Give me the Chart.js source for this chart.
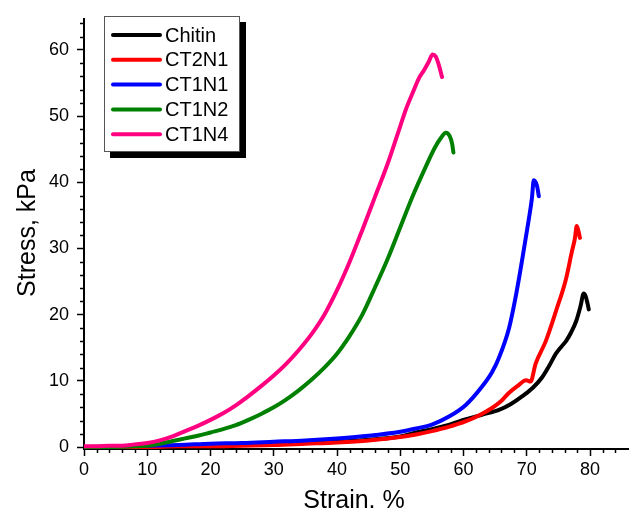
<!DOCTYPE html>
<html>
<head>
<meta charset="utf-8">
<script src="https://cdn.jsdelivr.net/npm/chart.js@4.4.0/dist/chart.umd.min.js"></script>
<style>
  body { margin: 0; background: #fff; }
  canvas { display: block; }
</style>
</head>
<body>
<canvas id="chart" width="633" height="508"></canvas>
<script>
// strain (%) / stress (kPa)
let chitinStrain = [0, 5, 10, 15, 20, 25, 30, 35, 40, 45, 50, 52.5, 55, 57.5, 60.4, 63, 65.6, 67.5, 69.2, 71, 72.4, 73.5, 74.6, 75.5, 76.2, 77, 77.8, 78.5, 79, 79.3, 79.6, 79.8];
let chitinStress = [0, 0, 0, 0.1, 0.2, 0.3, 0.4, 0.6, 0.8, 1.1, 1.6, 2.2, 2.7, 3.3, 4.2, 4.9, 5.6, 6.5, 7.6, 9.0, 10.5, 12.2, 14.1, 15.2, 16.0, 17.3, 19.0, 21.3, 23.2, 22.8, 21.7, 20.8];

let ct2n1Strain = [0, 5, 10, 15, 20, 25, 30, 35, 40, 45, 50, 52.5, 55, 57.5, 60.4, 62.5, 64.5, 66, 67.2, 68.5, 69.9, 70.6, 71.4, 73, 74.6, 76.2, 77.1, 77.6, 77.9, 78.2, 78.4];
let ct2n1Stress = [0, 0, 0, 0.1, 0.1, 0.2, 0.3, 0.5, 0.7, 1.0, 1.5, 1.9, 2.4, 3.0, 3.9, 4.8, 5.9, 7.0, 8.2, 9.2, 10.1, 9.9, 12.6, 16.0, 20.5, 25.4, 29.4, 31.5, 33.4, 32.5, 31.6];

let ct1n1Strain = [0, 5, 10, 15, 20, 25, 30, 35, 40, 45, 50, 52.5, 55, 57.7, 60.4, 62.9, 64.5, 65.6, 67.2, 68.3, 69.2, 70.3, 70.8, 71.1, 71.6, 71.9];
let ct1n1Stress = [0, 0.1, 0.2, 0.3, 0.5, 0.6, 0.8, 1.0, 1.3, 1.7, 2.3, 2.8, 3.4, 4.6, 6.4, 9.1, 11.3, 13.5, 18.0, 23.0, 27.9, 34.3, 37.5, 40.3, 39.5, 37.9];

let ct1n2Strain = [0, 4, 8, 10, 12, 14, 16, 18, 20, 22, 24, 26, 28, 30, 32, 34, 36, 38, 40, 42, 44, 46, 48, 50, 52, 54, 55.5, 56.5, 57.2, 57.8, 58.2, 58.4];
let ct1n2Stress = [0, 0, 0.1, 0.2, 0.5, 0.9, 1.3, 1.7, 2.2, 2.7, 3.3, 4.1, 5.0, 6.0, 7.2, 8.6, 10.2, 12.0, 14.1, 16.8, 20.0, 24.1, 28.4, 33.2, 38.0, 42.3, 45.3, 46.8, 47.5, 47.0, 45.8, 44.5];

let ct1n4Strain = [0, 2, 4, 6, 8, 10, 12, 14, 16, 18, 20, 22, 24, 26, 28, 30, 32, 34, 36, 38, 40, 42, 44, 46, 48, 50, 51, 52, 53, 53.8, 54.5, 55.1, 55.6, 56.1, 56.6];
let ct1n4Stress = [0.1, 0.1, 0.2, 0.2, 0.4, 0.6, 1.0, 1.6, 2.4, 3.2, 4.1, 5.1, 6.3, 7.7, 9.2, 10.8, 12.6, 14.7, 17.1, 20.0, 23.7, 28.0, 32.8, 37.8, 42.8, 48.5, 51.3, 53.6, 55.8, 57.0, 58.2, 59.3, 59.0, 57.7, 55.9];

let seriesNames = ["Chitin", "CT2N1", "CT1N1", "CT1N2", "CT1N4"];
let seriesColors = ["#000000", "#ff0000", "#0000ff", "#008000", "#ff0080"];
let xTicks = [0, 10, 20, 30, 40, 50, 60, 70, 80];
let yTicks = [0, 10, 20, 30, 40, 50, 60];

let xTitle = "Strain. %";
let yTitle = "Stress, kPa";

function toPoints(xs, ys) {
    return xs.map((x, i) => ({x: x, y: ys[i]}));
}

let allSeries = [
    toPoints(chitinStrain, chitinStress),
    toPoints(ct2n1Strain, ct2n1Stress),
    toPoints(ct1n1Strain, ct1n1Stress),
    toPoints(ct1n2Strain, ct1n2Stress),
    toPoints(ct1n4Strain, ct1n4Stress)
];

const FONT = "Arial, 'Liberation Sans', sans-serif";

// minor ticks, axis titles and the boxed legend with its shadow
let extras = {
    id: "extras",
    afterDraw(chart) {
        let ctx = chart.ctx;
        let xs = chart.scales.x, ys = chart.scales.y;
        let area = chart.chartArea;
        ctx.save();
        ctx.strokeStyle = "#000";
        ctx.lineWidth = 1.5;
        for (let v = 2; v <= 84; v += 2) {
            if (v % 10 === 0) continue;
            let px = Math.round(xs.getPixelForValue(v)) + 0.5;
            ctx.beginPath();
            ctx.moveTo(px, area.bottom);
            ctx.lineTo(px, area.bottom + 4);
            ctx.stroke();
        }
        for (let v = 2; v <= 64; v += 2) {
            if (v % 10 === 0) continue;
            let py = Math.round(ys.getPixelForValue(v)) + 0.5;
            ctx.beginPath();
            ctx.moveTo(area.left, py);
            ctx.lineTo(area.left - 4, py);
            ctx.stroke();
        }

        // axis titles
        ctx.fillStyle = "#000";
        ctx.font = "25px " + FONT;
        ctx.textAlign = "center";
        ctx.textBaseline = "alphabetic";
        ctx.fillText(xTitle, (area.left + area.right) / 2 - 2, 508);
        ctx.save();
        ctx.translate(35, 233);
        ctx.rotate(-Math.PI / 2);
        ctx.fillText(yTitle, 0, 0);
        ctx.restore();

        // legend
        let bx = 104, by = 16, bw = 136, bh = 136;
        ctx.fillStyle = "#000";
        ctx.fillRect(bx + 6, by + 6, bw, bh);
        ctx.fillStyle = "#fff";
        ctx.fillRect(bx, by, bw, bh);
        ctx.strokeStyle = "#555";
        ctx.lineWidth = 1;
        ctx.strokeRect(bx + 0.5, by + 0.5, bw - 1, bh - 1);
        ctx.font = "20px " + FONT;
        ctx.textAlign = "left";
        ctx.textBaseline = "middle";
        chart.data.datasets.forEach((ds, i) => {
            let y = 35 + i * 24.8;
            ctx.strokeStyle = ds.borderColor;
            ctx.lineWidth = 4;
            ctx.lineCap = "round";
            ctx.beginPath();
            ctx.moveTo(113, y);
            ctx.lineTo(160, y);
            ctx.stroke();
            ctx.fillStyle = "#000";
            ctx.fillText(ds.label, 165, y + 1);
        });
        ctx.restore();
    }
};

new Chart(document.getElementById("chart"), {
    type: "line",
    data: {
        datasets: seriesNames.map((name, i) => ({
            label: name,
            data: allSeries[i],
            borderColor: seriesColors[i],
            backgroundColor: seriesColors[i],
            borderWidth: 4,
            borderJoinStyle: "round",
            borderCapStyle: "round",
            pointRadius: 0,
            cubicInterpolationMode: "monotone",
            fill: false,
            order: seriesNames.length - i
        }))
    },
    options: {
        responsive: false,
        animation: false,
        layout: {padding: {top: 12, right: 5, left: 0, bottom: 0}},
        plugins: {
            legend: {display: false},
            tooltip: {enabled: false}
        },
        scales: {
            x: {
                type: "linear",
                min: 0,
                max: 86,
                afterBuildTicks: scale => { scale.ticks = xTicks.map(v => ({value: v})); },
                afterFit: scale => { scale.height = 59; },
                grid: {drawOnChartArea: false, drawTicks: true, tickLength: 7, tickWidth: 1.5, tickColor: "#000"},
                border: {color: "#000", width: 2},
                ticks: {color: "#000", font: {family: FONT, size: 18}, padding: 3, maxRotation: 0}
            },
            y: {
                type: "linear",
                min: -0.3,
                max: 64.7,
                afterBuildTicks: scale => { scale.ticks = yTicks.map(v => ({value: v})); },
                afterFit: scale => { scale.width = 84; },
                grid: {drawOnChartArea: false, drawTicks: true, tickLength: 7, tickWidth: 1.5, tickColor: "#000"},
                border: {color: "#000", width: 2},
                ticks: {color: "#000", font: {family: FONT, size: 18}, padding: 8}
            }
        }
    },
    plugins: [extras]
});
</script>
</body>
</html>
